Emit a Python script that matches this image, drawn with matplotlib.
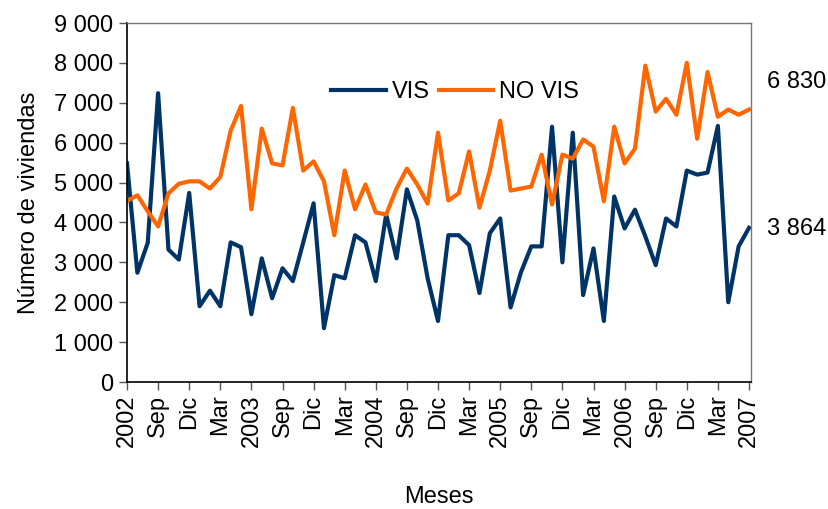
import numpy as np
import matplotlib
matplotlib.use('Agg')
import matplotlib.pyplot as plt
from matplotlib.ticker import FuncFormatter
import matplotlib.transforms as mtransforms

plt.rcParams['font.family'] = ['Liberation Sans', 'DejaVu Sans']

# monthly series, Jun 2002 .. Jun 2007
vis = [5480, 2740, 3490, 7240, 3320, 3070, 4740, 1900, 2290, 1900,
       3500, 3380, 1700, 3100, 2100, 2850, 2530, 3500, 4480, 1350,
       2680, 2600, 3680, 3500, 2530, 4200, 3100, 4830, 4050, 2600,
       1530, 3680, 3680, 3430, 2230, 3730, 4100, 1870, 2750, 3400,
       3400, 6400, 3000, 6250, 2180, 3350, 1530, 4650, 3850, 4320,
       3650, 2930, 4100, 3900, 5300, 5200, 5250, 6420, 2000, 3400,
       3864]
no_vis = [4540, 4680, 4280, 3900, 4730, 4970, 5030, 5030, 4850, 5140,
          6300, 6920, 4330, 6350, 5480, 5430, 6870, 5300, 5530, 5030,
          3680, 5300, 4330, 4950, 4250, 4200, 4850, 5350, 4950, 4470,
          6250, 4550, 4730, 5780, 4370, 5300, 6550, 4800, 4850, 4900,
          5700, 4450, 5700, 5600, 6080, 5900, 4530, 6400, 5480, 5850,
          7930, 6780, 7100, 6700, 8000, 6100, 7770, 6650, 6830, 6700,
          6830]
tick_labels = ['2002', 'Sep', 'Dic', 'Mar', '2003', 'Sep', 'Dic', 'Mar',
               '2004', 'Sep', 'Dic', 'Mar', '2005', 'Sep', 'Dic', 'Mar',
               '2006', 'Sep', 'Dic', 'Mar', '2007']

NAVY = '#003366'
ORANGE = '#FF6600'
FS = 17


def fmt_thousands(v):
    return f'{int(v):,}'.replace(',', ' ')


fig = plt.figure(figsize=(8.29, 5.09), dpi=100)
ax = fig.add_axes([0.1532, 0.2495, 0.906 - 0.1532, 0.9548 - 0.2495])

months = np.arange(len(vis))
ax.plot(months, vis, color=NAVY, linewidth=3, label='VIS', solid_joinstyle='round')
ax.plot(months, no_vis, color=ORANGE, linewidth=3, label='NO VIS', solid_joinstyle='round')

ax.set_xlim(0, len(vis) - 1 + 0.2)
ax.set_ylim(0, 9000)
ax.set_yticks(np.arange(0, 9001, 1000))
ax.yaxis.set_major_formatter(FuncFormatter(lambda v, p: fmt_thousands(v)))
ax.set_xticks(np.arange(0, len(vis), 3))
ax.set_xticklabels(tick_labels, rotation=90)

ax.tick_params(axis='both', direction='out', length=6, width=1, labelsize=FS, color='#555555')
ax.tick_params(axis='y', pad=4)
ax.tick_params(axis='x', pad=3)

for side in ('left', 'bottom'):
    ax.spines[side].set_color('black')
    ax.spines[side].set_linewidth(1.2)
for side in ('top', 'right'):
    ax.spines[side].set_color('#777777')
    ax.spines[side].set_linewidth(1)

ax.set_ylabel('Número de viviendas', fontsize=FS, labelpad=10)
ax.set_xlabel('Meses', fontsize=FS, labelpad=28)

ax.legend(loc='center', bbox_to_anchor=(0.526, 0.808), ncol=2, frameon=False,
          fontsize=FS, handlelength=2.3, columnspacing=0.4, handletextpad=0.25,
          borderpad=0, borderaxespad=0)

# last values annotated to the right of the plot
trans = mtransforms.blended_transform_factory(ax.transAxes, ax.transData)
ax.text(1.025, 7520, fmt_thousands(no_vis[-1]), transform=trans,
        fontsize=FS, va='center', ha='left')
ax.text(1.025, 3835, fmt_thousands(vis[-1]), transform=trans,
        fontsize=FS, va='center', ha='left')

fig.savefig('out.png', dpi=100)
